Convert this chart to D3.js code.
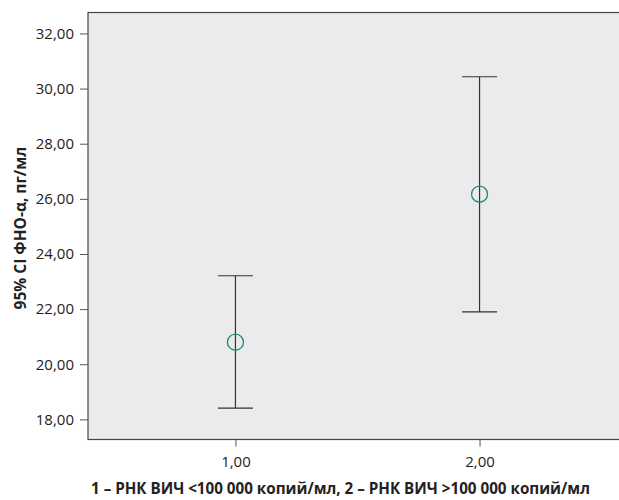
<!DOCTYPE html>
<html>
<head>
<meta charset="utf-8">
<script src="https://cdn.jsdelivr.net/npm/d3@7"></script>
<style>
  body { margin: 0; background: #fff; }
  svg { display: block; }
  text { font-family: "Open Sans", "Noto Sans", sans-serif; fill: #222; }
</style>
</head>
<body>
<svg id="chart" width="619" height="500"></svg>
<script>
// groups and their 95% CI (mean, lower, upper)
const groups = [1, 2];
const means = [20.80, 26.17];
const lowers = [18.41, 21.90];
const uppers = [23.21, 30.43];
const yTicks = [18, 20, 22, 24, 26, 28, 30, 32];
const xTicks = [1, 2];
const yLabel = "95% CI ФНО-α, пг/мл";
const xLabel = "1 – РНК ВИЧ <100 000 копий/мл, 2 – РНК ВИЧ >100 000 копий/мл";

const fmt = d => d3.format(".2f")(d).replace(".", ",");

const plotL = 88, plotT = 12.5, plotR = 627, plotB = 439.5;

const svg = d3.select("#chart");

const x = d3.scaleLinear().domain([0.396, 2.604]).range([plotL, plotR]);
const y = d3.scaleLinear().domain([17.27, 32.76]).range([plotB, plotT]);

// plot background
svg.append("rect")
  .attr("x", plotL).attr("y", plotT)
  .attr("width", plotR - plotL).attr("height", plotB - plotT)
  .attr("fill", "#ebebed")
  .attr("stroke", "#444")
  .attr("stroke-width", 1.2);

// y axis
const yAxis = svg.append("g")
  .attr("transform", `translate(${plotL},0)`)
  .call(d3.axisLeft(y).tickValues(yTicks).tickFormat(fmt).tickSize(8).tickPadding(6));
yAxis.select(".domain").remove();
yAxis.selectAll("line").attr("stroke", "#555");
yAxis.selectAll("text").style("font-size", "15px").style("fill", "#222");

// x axis
const xAxis = svg.append("g")
  .attr("transform", `translate(0,${plotB})`)
  .call(d3.axisBottom(x).tickValues(xTicks).tickFormat(fmt).tickSize(7).tickPadding(10));
xAxis.select(".domain").remove();
xAxis.selectAll("line").attr("stroke", "#555");
xAxis.selectAll("text").style("font-size", "15px").style("fill", "#222");

// error bars
const data = groups.map((g, i) => ({g: g, mean: means[i], lo: lowers[i], hi: uppers[i]}));
const cap = 17.5;

const bars = svg.append("g").selectAll("g")
  .data(data).enter()
  .append("g");

bars.append("line")
  .attr("x1", d => x(d.g)).attr("x2", d => x(d.g))
  .attr("y1", d => y(d.lo)).attr("y2", d => y(d.hi))
  .attr("stroke", "#333").attr("stroke-width", 1.2);

bars.selectAll(".cap")
  .data(d => [{g: d.g, v: d.lo}, {g: d.g, v: d.hi}]).enter()
  .append("line")
  .attr("class", "cap")
  .attr("x1", d => x(d.g) - cap).attr("x2", d => x(d.g) + cap)
  .attr("y1", d => y(d.v)).attr("y2", d => y(d.v))
  .attr("stroke", "#333").attr("stroke-width", 1.2);

bars.append("circle")
  .attr("cx", d => x(d.g)).attr("cy", d => y(d.mean))
  .attr("r", 8)
  .attr("fill", "none")
  .attr("stroke", "#1f8f6e")
  .attr("stroke-width", 1.3);

// axis titles
svg.append("text")
  .attr("transform", "translate(26,228) rotate(-90)")
  .attr("text-anchor", "middle")
  .style("font-size", "15.5px")
  .style("font-weight", "bold")
  .text(yLabel);

svg.append("text")
  .attr("x", 91).attr("y", 494)
  .style("font-size", "15.2px")
  .style("font-weight", "bold")
  .text(xLabel);
</script>
</body>
</html>
